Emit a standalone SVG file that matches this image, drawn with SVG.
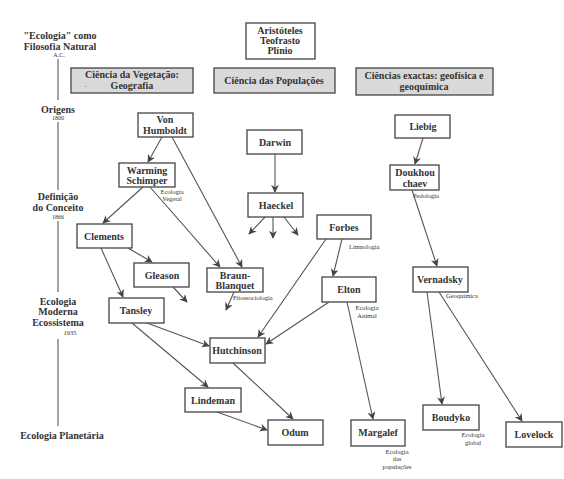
<svg xmlns="http://www.w3.org/2000/svg" width="564" height="479" viewBox="0 0 564 479">
<defs>
<marker id="ah" viewBox="0 0 10 10" refX="9" refY="5" markerWidth="8" markerHeight="8" orient="auto" markerUnits="userSpaceOnUse">
<path d="M0,0 L10,5 L0,10 L3,5 z" fill="#444"/>
</marker>
</defs>
<style>
.node rect{fill:#fff;stroke:#444;stroke-width:1.3}
.cat rect{fill:#d9d9d9;stroke:#444;stroke-width:1.3}
text{font-family:"Liberation Serif","Times New Roman",serif;fill:#333}
.t{font-size:10px;font-weight:bold;text-anchor:middle}
.s{font-size:6.5px}
.sc{font-size:6.5px;text-anchor:middle}
.yr{font-size:6px;text-anchor:middle}
#connectors line{stroke:#555;stroke-width:1.1;marker-end:url(#ah)}
#timeline line{stroke:#666;stroke-width:1.2}
</style>
<rect width="564" height="479" fill="#fff"/>
<g id="timeline">
<text class="t" x="60" y="39">"Ecologia" como</text>
<text class="t" x="60" y="50">Filosofia Natural</text>
<text class="yr" x="59" y="57">A.C.</text>
<line x1="58" y1="59" x2="58" y2="100"/>
<text class="t" x="58" y="113">Origens</text>
<text class="yr" x="58" y="120">1800</text>
<line x1="58" y1="122" x2="58" y2="190"/>
<text class="t" x="58" y="200">Definição</text>
<text class="t" x="58" y="211">do Conceito</text>
<text class="yr" x="58" y="219">1866</text>
<line x1="58" y1="221" x2="58" y2="292"/>
<text class="t" x="58" y="305">Ecologia</text>
<text class="t" x="58" y="315">Moderna</text>
<text class="t" x="58" y="326">Ecossistema</text>
<text class="yr" x="70" y="335" style="font-size:6.5px">1935</text>
<line x1="58" y1="339" x2="58" y2="426"/>
<text class="t" x="62" y="439">Ecologia Planetária</text>
</g>
<g id="aristoteles" class="node"><rect x="246" y="23" width="69" height="36"/><text class="t" x="280" y="34">Aristóteles</text><text class="t" x="280" y="44">Teofrasto</text><text class="t" x="280" y="54">Plínio</text></g>
<g id="vegetacao" class="cat"><rect x="71" y="68" width="122" height="25"/><text class="t" x="132" y="78">Ciência da Vegetação:</text><text class="t" x="132" y="89">Geografia</text><text class="s" x="85" y="87">.</text></g>
<g id="populacoes" class="cat"><rect x="214" y="68" width="121" height="25"/><text class="t" x="274" y="84">Ciência das Populações</text></g>
<g id="exactas" class="cat"><rect x="356" y="68" width="137" height="27"/><text class="t" x="424" y="79">Ciências exactas: geofísica e</text><text class="t" x="424" y="90">geoquímica</text></g>
<g id="humboldt" class="node"><rect x="138" y="113" width="55" height="24"/><text class="t" x="165" y="123">Von</text><text class="t" x="165" y="134">Humboldt</text></g>
<g id="warming" class="node"><rect x="119" y="163" width="56" height="24"/><text class="t" x="147" y="174">Warming</text><text class="t" x="147" y="184">Schimper</text><text class="sc" x="172" y="194">Ecologia</text><text class="sc" x="172" y="201">Vegetal</text></g>
<g id="darwin" class="node"><rect x="247" y="130" width="55" height="24"/><text class="t" x="275" y="146">Darwin</text></g>
<g id="liebig" class="node"><rect x="395" y="115" width="55" height="23"/><text class="t" x="423" y="130">Liebig</text></g>
<g id="doukhouchaev" class="node"><rect x="390" y="165" width="49" height="25"/><text class="t" x="415" y="176">Doukhou</text><text class="t" x="415" y="187">chaev</text><text class="s" x="413" y="198">Pedologia</text></g>
<g id="haeckel" class="node"><rect x="248" y="193" width="55" height="24"/><text class="t" x="276" y="209">Haeckel</text></g>
<g id="forbes" class="node"><rect x="317" y="215" width="54" height="24"/><text class="t" x="344" y="231">Forbes</text><text class="s" x="349" y="249">Limnologia</text></g>
<g id="clements" class="node"><rect x="77" y="224" width="55" height="24"/><text class="t" x="104" y="240">Clements</text></g>
<g id="gleason" class="node"><rect x="134" y="263" width="55" height="24"/><text class="t" x="162" y="279">Gleason</text></g>
<g id="braun" class="node"><rect x="207" y="268" width="56" height="24"/><text class="t" x="235" y="279">Braun-</text><text class="t" x="235" y="289">Blanquet</text><text class="s" x="233" y="300">Fitossociologia</text></g>
<g id="elton" class="node"><rect x="322" y="277" width="54" height="25"/><text class="t" x="349" y="293">Elton</text><text class="sc" x="367" y="310">Ecologia</text><text class="sc" x="367" y="318">Animal</text></g>
<g id="vernadsky" class="node"><rect x="413" y="267" width="55" height="25"/><text class="t" x="440" y="283">Vernadsky</text><text class="s" x="446" y="298">Geoquimica</text></g>
<g id="tansley" class="node"><rect x="109" y="298" width="55" height="25"/><text class="t" x="136" y="314">Tansley</text></g>
<g id="hutchinson" class="node"><rect x="210" y="338" width="55" height="25"/><text class="t" x="237" y="354">Hutchinson</text></g>
<g id="lindeman" class="node"><rect x="185" y="388" width="56" height="24"/><text class="t" x="213" y="404">Lindeman</text></g>
<g id="odum" class="node"><rect x="268" y="420" width="55" height="25"/><text class="t" x="295" y="436">Odum</text></g>
<g id="margalef" class="node"><rect x="351" y="420" width="54" height="26"/><text class="t" x="378" y="436">Margalef</text><text class="sc" x="397" y="454">Ecologia</text><text class="sc" x="397" y="461">das</text><text class="sc" x="397" y="469">populações</text></g>
<g id="boudyko" class="node"><rect x="423" y="405" width="56" height="25"/><text class="t" x="451" y="421">Boudyko</text><text class="sc" x="473" y="437">Ecologia</text><text class="sc" x="473" y="445">global</text></g>
<g id="lovelock" class="node"><rect x="506" y="422" width="56" height="25"/><text class="t" x="534" y="438">Lovelock</text></g>
<g id="connectors">
<line x1="162" y1="137" x2="148" y2="162"/>
<line x1="172" y1="137" x2="242" y2="267"/>
<line x1="143" y1="187" x2="103" y2="223"/>
<line x1="150" y1="187" x2="220" y2="267"/>
<line x1="275" y1="154" x2="275" y2="192"/>
<line x1="265" y1="217" x2="249" y2="234"/>
<line x1="273" y1="217" x2="273" y2="238"/>
<line x1="284" y1="217" x2="298" y2="235"/>
<line x1="423" y1="138" x2="415" y2="164"/>
<line x1="412" y1="190" x2="437" y2="266"/>
<line x1="128" y1="248" x2="152" y2="262"/>
<line x1="101" y1="248" x2="123" y2="297"/>
<line x1="173" y1="287" x2="187" y2="302"/>
<line x1="234" y1="292" x2="226" y2="310"/>
<line x1="342" y1="239" x2="333" y2="276"/>
<line x1="326" y1="239" x2="258" y2="337"/>
<line x1="329" y1="302" x2="266" y2="344"/>
<line x1="347" y1="302" x2="373" y2="419"/>
<line x1="147" y1="323" x2="209" y2="346"/>
<line x1="132" y1="323" x2="208" y2="387"/>
<line x1="233" y1="363" x2="293" y2="419"/>
<line x1="217" y1="412" x2="267" y2="430"/>
<line x1="427" y1="292" x2="442" y2="404"/>
<line x1="439" y1="292" x2="522" y2="421"/>
</g>
</svg>
